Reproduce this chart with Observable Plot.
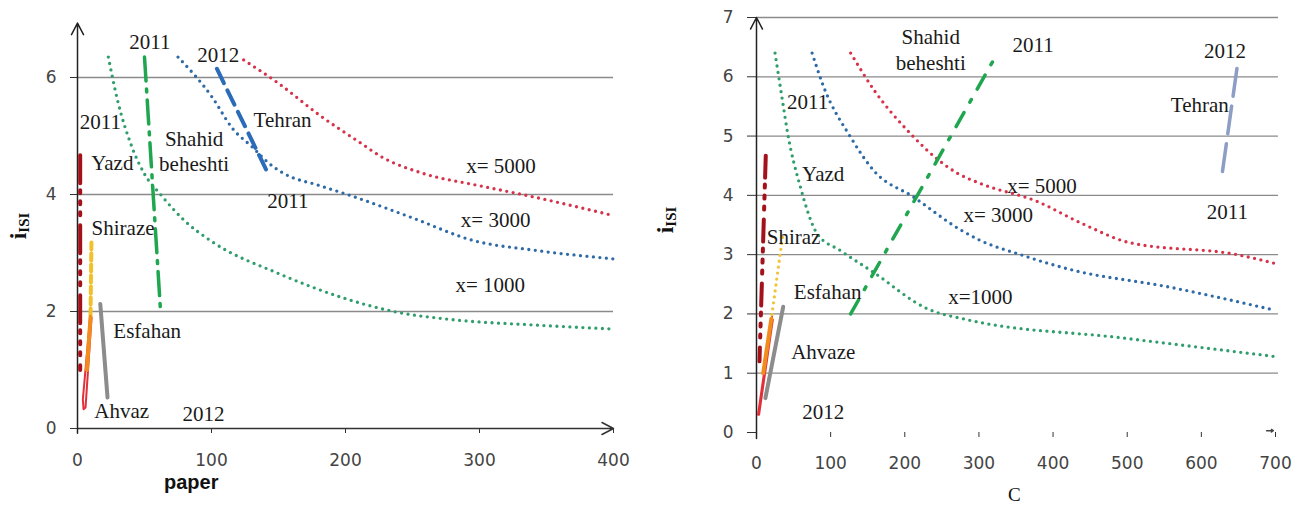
<!DOCTYPE html>
<html>
<head>
<meta charset="utf-8">
<script src="https://cdn.jsdelivr.net/npm/d3@7"></script>
<script src="https://cdn.jsdelivr.net/npm/@observablehq/plot@0.6"></script>
<style>
  body { margin:0; background:#fff; width:1296px; height:508px; position:relative; overflow:hidden; }
  .panel { position:absolute; top:0; }
  .ylab { position:absolute; font-family:"Liberation Serif", serif; font-weight:bold; font-size:24px; color:#111; transform:rotate(-90deg); transform-origin:center; white-space:nowrap; }
  .ylab sub { font-size:15px; vertical-align:-3px; }
  .xlab { position:absolute; white-space:nowrap; color:#111; }
</style>
</head>
<body>
<div id="left" class="panel" style="left:0"></div>
<div id="right" class="panel" style="left:648px"></div>
<div class="ylab" style="left:6px; top:212px;">i<sub>ISI</sub></div>
<div class="ylab" style="left:653px; top:206px;">i<sub>ISI</sub></div>
<div class="xlab" style="left:164px; top:471px; font-family:'Liberation Sans',sans-serif; font-weight:bold; font-size:20px;">paper</div>
<div class="xlab" style="left:1008px; top:484px; font-family:'Liberation Serif',serif; font-size:19px;">C</div>
<script>
// ---------- LEFT PANEL (paper vs i_ISI) ----------
const L_xTicks = [0, 100, 200, 300, 400];
const L_yTicks = [0, 2, 4, 6];
const L_grid = [2, 4, 6];

const L_x1000_paper = [23, 30, 40, 50, 62, 80, 100, 150, 200, 236, 280, 340, 400];
const L_x1000_i     = [6.35, 5.6, 4.85, 4.35, 4.0, 3.55, 3.2, 2.65, 2.22, 2.0, 1.86, 1.77, 1.7];
const L_x3000_paper = [75, 100, 116, 131, 142, 154, 181, 204, 250, 296, 340, 400];
const L_x3000_i     = [6.35, 5.68, 5.12, 4.8, 4.55, 4.36, 4.15, 3.98, 3.6, 3.21, 3.05, 2.9];
const L_x5000_paper = [124, 150, 181, 210, 228, 258, 300, 336, 400];
const L_x5000_i     = [6.3, 5.9, 5.35, 4.9, 4.63, 4.36, 4.15, 3.98, 3.64];

const L_shahid_paper = [50, 62];   const L_shahid_i = [6.35, 2.0];
const L_tehran_paper = [104, 143]; const L_tehran_i = [6.15, 4.32];
const L_yazd_paper   = [2, 2];     const L_yazd_i   = [4.67, 1.0];
const L_shiraz_paper = [10.4, 9.7]; const L_shiraz_i = [3.18, 1.9];
const L_orange_paper = [9.7, 7];   const L_orange_i = [1.9, 1.0];
const L_ahvaz_paper  = [9.5, 4, 4.5, 6, 10.5]; const L_ahvaz_i = [1.92, 0.5, 0.33, 0.36, 1.9];
const L_esfahan_paper = [17, 22.4]; const L_esfahan_i = [2.13, 0.53];

const L_labels = ["2011", "2012", "Tehran", "2011", "Shahid\nbeheshti", "Yazd", "2011", "Shiraze",
                  "x= 5000", "x= 3000", "x= 1000", "Esfahan", "Ahvaz", "2012"];
const L_label_paper = [54, 105, 153, 17, 87, 26, 157, 34, 316, 312, 308, 52, 33, 94];
const L_label_i     = [6.63, 6.41, 5.3, 5.26, 4.75, 4.55, 3.9, 3.44, 4.5, 3.59, 2.47, 1.69, 0.31, 0.27];

// ---------- RIGHT PANEL (C vs i_ISI) ----------
const R_xTicks = [0, 100, 200, 300, 400, 500, 600, 700];
const R_yTicks = [0, 1, 2, 3, 4, 5, 6, 7];
const R_grid = [1, 2, 3, 4, 5, 6, 7];

const R_x1000_C = [25, 35, 42, 59, 82, 113, 158, 230, 285, 490, 700];
const R_x1000_i = [6.4, 5.6, 5.05, 4.15, 3.35, 3.07, 2.7, 2.09, 1.9, 1.6, 1.28];
const R_x3000_C = [75, 90, 127, 158, 212, 275, 300, 356, 423, 558, 700];
const R_x3000_i = [6.4, 5.85, 4.98, 4.42, 3.97, 3.42, 3.25, 3.0, 2.75, 2.45, 2.06];
const R_x5000_C = [127, 160, 207, 245, 270, 302, 378, 440, 504, 648, 700];
const R_x5000_i = [6.4, 5.75, 5.05, 4.6, 4.38, 4.2, 3.9, 3.52, 3.2, 3.0, 2.85];

const R_shahid_C = [127, 325]; const R_shahid_i = [2.0, 6.4];
const R_tehran_C = [648, 628]; const R_tehran_i = [6.14, 4.36];
const R_yazd_C   = [12.5, 4];  const R_yazd_i   = [4.67, 1.2];
const R_shiraz_C = [35, 20];   const R_shiraz_i = [3.29, 1.92];
const R_orange_C = [20, 9];    const R_orange_i = [1.92, 1.0];
const R_ahvaz_C  = [21, 2, 3.5, 22]; const R_ahvaz_i = [1.95, 0.3, 0.3, 1.9];
const R_esfahan_C = [36, 12];  const R_esfahan_i = [2.12, 0.58];

const R_labels = ["Shahid\nbeheshti", "2011", "2012", "Tehran", "2011", "2011", "Yazd", "Shiraz",
                  "Esfahan", "Ahvaze", "2012", "x= 5000", "x= 3000", "x=1000"];
const R_label_C = [235, 373, 632, 598, 635, 69, 90, 50, 96, 90, 90, 385, 326, 302];
const R_label_i = [6.47, 6.56, 6.46, 5.55, 3.74, 5.6, 4.37, 3.31, 2.38, 1.38, 0.37, 4.17, 3.69, 2.31];

// ---------- helpers ----------
const zip = (xs, ys) => xs.map((x, k) => ({x, y: ys[k]}));
const labelData = (t, xs, ys) => t.map((s, k) => ({text: s, x: xs[k], y: ys[k]}));

const DOT = {strokeWidth: 3.3, strokeDasharray: "0,6.5", strokeLinecap: "round", curve: "monotone-x"};
const serif = {fontFamily: "Liberation Serif, serif", fontSize: 21, fill: "#1a1a1a", lineHeight: 1.2};
const tickStyle = {fontFamily: "DejaVu Sans, sans-serif", fontSize: "17px", color: "#444", background: "white", overflow: "visible"};
const fmt = d => String(d);

const left = Plot.plot({
  width: 648, height: 508,
  marginLeft: 77, marginRight: 35, marginTop: 18.5, marginBottom: 80,
  x: {domain: [0, 400]},
  y: {domain: [0, 7]},
  style: tickStyle,
  marks: [
    Plot.ruleY(L_grid, {x1: () => 0, x2: () => 400, stroke: "#8a8a8a", strokeWidth: 1.3}),
    Plot.axisX({ticks: L_xTicks, tickFormat: fmt, tickSize: 5, tickPadding: 20, label: null, stroke: "#333"}),
    Plot.axisY({ticks: L_yTicks, tickFormat: fmt, tickSize: 7, tickPadding: 14, label: null, stroke: "#333"}),
    Plot.arrow([{x1: 0, y1: 0, x2: 400, y2: 0}], {x1: "x1", y1: "y1", x2: "x2", y2: "y2", stroke: "#333", strokeWidth: 1.5, headLength: 13, headAngle: 55}),
    Plot.arrow([{x1: 0, y1: -0.08, x2: 0, y2: 6.93}], {x1: "x1", y1: "y1", x2: "x2", y2: "y2", stroke: "#222", strokeWidth: 1.5, headLength: 13, headAngle: 55}),
    Plot.line(zip(L_x1000_paper, L_x1000_i), {x: "x", y: "y", stroke: "#2f9d6c", ...DOT}),
    Plot.line(zip(L_x3000_paper, L_x3000_i), {x: "x", y: "y", stroke: "#2e6aa6", ...DOT}),
    Plot.line(zip(L_x5000_paper, L_x5000_i), {x: "x", y: "y", stroke: "#d6334a", ...DOT}),
    Plot.line(zip(L_shahid_paper, L_shahid_i), {x: "x", y: "y", stroke: "#1fa64f", strokeWidth: 3.5, strokeDasharray: "24,8,3,8"}),
    Plot.line(zip(L_tehran_paper, L_tehran_i), {x: "x", y: "y", stroke: "#2b6cb8", strokeWidth: 4, strokeDasharray: "16,8"}),
    Plot.line(zip(L_yazd_paper, L_yazd_i), {x: "x", y: "y", stroke: "#a3121a", strokeWidth: 4, strokeDasharray: "28,7,3,8,3,8,3,10"}),
    Plot.line(zip(L_shiraz_paper, L_shiraz_i), {x: "x", y: "y", stroke: "#f2c02a", strokeWidth: 4, strokeDasharray: "7,4"}),
    Plot.line(zip(L_ahvaz_paper, L_ahvaz_i), {x: "x", y: "y", stroke: "#e2303a", strokeWidth: 2}),
    Plot.line(zip(L_orange_paper, L_orange_i), {x: "x", y: "y", stroke: "#f28c1c", strokeWidth: 4}),
    Plot.line(zip(L_esfahan_paper, L_esfahan_i), {x: "x", y: "y", stroke: "#8c8c8c", strokeWidth: 4}),
    Plot.text(labelData(L_labels, L_label_paper, L_label_i), {x: "x", y: "y", text: "text", ...serif})
  ]
});
document.getElementById("left").append(left);

const right = Plot.plot({
  width: 648, height: 508,
  marginLeft: 108, marginRight: 21, marginTop: 17, marginBottom: 76,
  x: {domain: [0, 700]},
  y: {domain: [0, 7]},
  style: tickStyle,
  marks: [
    Plot.ruleY(R_grid, {x1: () => 0, x2: () => 704, stroke: "#8a8a8a", strokeWidth: 1.3}),
    Plot.axisX({ticks: R_xTicks, tickFormat: fmt, tickSize: 5, tickPadding: 19, label: null, stroke: "#333"}),
    Plot.axisY({ticks: R_yTicks, tickFormat: fmt, tickSize: 9, tickPadding: 14, label: null, stroke: "#333"}),
    Plot.arrow([{x1: 0, y1: -0.1, x2: 0, y2: 7}], {x1: "x1", y1: "y1", x2: "x2", y2: "y2", stroke: "#222", strokeWidth: 1.5, headLength: 13, headAngle: 55}),
    Plot.arrow([{x1: 688, y1: 0.03, x2: 697, y2: 0.03}], {x1: "x1", y1: "y1", x2: "x2", y2: "y2", stroke: "#444", strokeWidth: 1.5, headLength: 12, headAngle: 70}),
    Plot.line(zip(R_x1000_C, R_x1000_i), {x: "x", y: "y", stroke: "#2f9d6c", ...DOT}),
    Plot.line(zip(R_x3000_C, R_x3000_i), {x: "x", y: "y", stroke: "#2e6aa6", ...DOT}),
    Plot.line(zip(R_x5000_C, R_x5000_i), {x: "x", y: "y", stroke: "#d6334a", ...DOT}),
    Plot.line(zip(R_shahid_C, R_shahid_i), {x: "x", y: "y", stroke: "#1fa64f", strokeWidth: 3.5, strokeDasharray: "16,12,3,12"}),
    Plot.line(zip(R_tehran_C, R_tehran_i), {x: "x", y: "y", stroke: "#8c9dc6", strokeWidth: 3.5, strokeDasharray: "28,10"}),
    Plot.line(zip(R_yazd_C, R_yazd_i), {x: "x", y: "y", stroke: "#a3121a", strokeWidth: 4, strokeDasharray: "22,7,3,8,3,8,3,10"}),
    Plot.line(zip(R_shiraz_C, R_shiraz_i), {x: "x", y: "y", stroke: "#f2c43a", strokeWidth: 3.3, strokeDasharray: "0,6", strokeLinecap: "round"}),
    Plot.line(zip(R_ahvaz_C, R_ahvaz_i), {x: "x", y: "y", stroke: "#e2303a", strokeWidth: 2}),
    Plot.line(zip(R_orange_C, R_orange_i), {x: "x", y: "y", stroke: "#f28c1c", strokeWidth: 4}),
    Plot.line(zip(R_esfahan_C, R_esfahan_i), {x: "x", y: "y", stroke: "#8c8c8c", strokeWidth: 4}),
    Plot.text(labelData(R_labels, R_label_C, R_label_i), {x: "x", y: "y", text: "text", ...serif})
  ]
});
document.getElementById("right").append(right);
</script>
</body>
</html>
